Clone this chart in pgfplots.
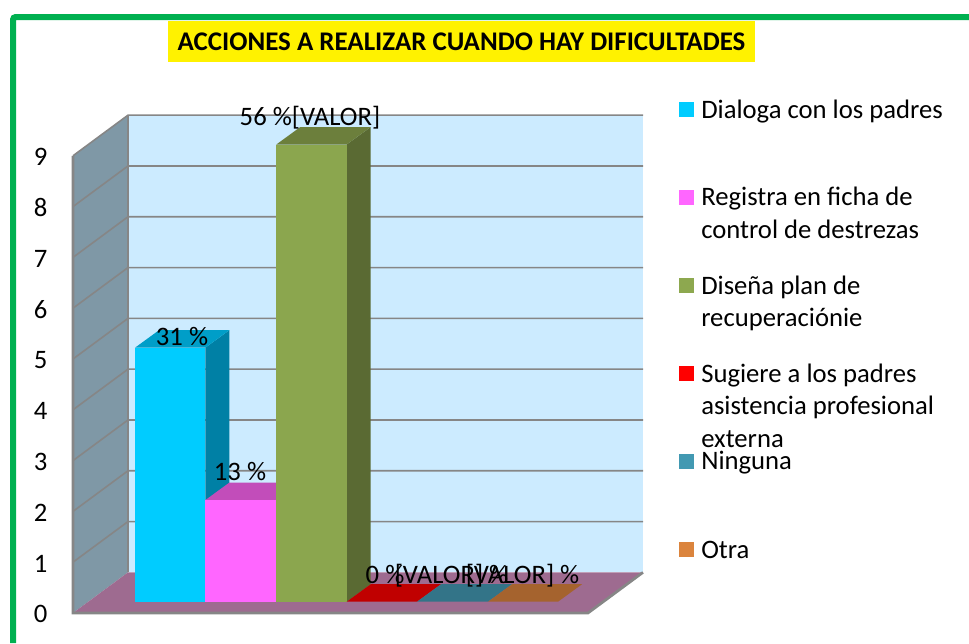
\documentclass[border=0pt]{standalone}
\usepackage{pgfplots}
\usepackage{fontspec}
\setmainfont{Carlito}
\pgfplotsset{compat=1.18}
\definecolor{grn}{HTML}{00B050}
\definecolor{wallL}{HTML}{7F98A6}
\definecolor{wallB}{HTML}{CCEBFF}
\definecolor{floorc}{HTML}{9E6B90}
\definecolor{gline}{HTML}{868686}
\newcommand{\fs}[1]{\fontsize{#1}{#1}\selectfont}
\begin{document}
\begin{tikzpicture}
\path[use as bounding box] (0,0) rectangle (726.75pt,482.25pt);
% page-level layer in pixel units
\begin{axis}[at={(0pt,0pt)},anchor=south west,x=0.75pt,y=0.75pt,xmin=0,xmax=969,ymin=0,ymax=643,y dir=reverse,hide axis,clip=false]
\addplot[draw=grn,line width=4.5pt,rounded corners=2pt] coordinates {(13,643) (13,17) (969,17)};
\addplot[fill=yellow,draw=none] coordinates {(168,21) (755,21) (755,62) (168,62)} -- cycle;
\node[anchor=base,inner sep=0pt,font=\fs{20.2}\bfseries] at (axis cs:461.5,50) {ACCIONES A REALIZAR CUANDO HAY DIFICULTADES};
\addplot[fill={rgb,255:red,0;green,204;blue,255},draw=none] coordinates {(679,102) (694,102) (694,117) (679,117)} -- cycle;
\addplot[fill={rgb,255:red,255;green,102;blue,255},draw=none] coordinates {(679,190) (694,190) (694,205) (679,205)} -- cycle;
\addplot[fill={rgb,255:red,141;green,168;blue,79},draw=none] coordinates {(679,278) (694,278) (694,293) (679,293)} -- cycle;
\addplot[fill={rgb,255:red,255;green,0;blue,0},draw=none] coordinates {(679,366) (694,366) (694,381) (679,381)} -- cycle;
\addplot[fill={rgb,255:red,66;green,153;blue,178},draw=none] coordinates {(679,454) (694,454) (694,469) (679,469)} -- cycle;
\addplot[fill={rgb,255:red,219;green,132;blue,61},draw=none] coordinates {(679,542) (694,542) (694,557) (679,557)} -- cycle;
\tikzset{lg/.style={anchor=base west,inner sep=0pt,font=\fs{20}}}
\node[lg] at (axis cs:701,118) {Dialoga con los padres};
\node[lg] at (axis cs:701,205) {Registra en ficha de};
\node[lg] at (axis cs:701,238) {control de destrezas};
\node[lg] at (axis cs:701,294) {Diseña plan de};
\node[lg] at (axis cs:701,326) {recuperaciónie};
\node[lg] at (axis cs:701,382) {Sugiere a los padres};
\node[lg] at (axis cs:701,414) {asistencia profesional};
\node[lg] at (axis cs:701,447) {externa};
\node[lg] at (axis cs:701,469) {Ninguna};
\node[lg] at (axis cs:701,558) {Otra};
\end{axis}
% walls, floor and value axis
\begin{axis}[at={(54.75pt,22.5pt)},anchor=south west,x=0.75pt,y=38.1pt,
  xmin=73,xmax=643,ymin=0,ymax=9,clip=false,
  axis line style={draw=none},xtick=\empty,ytick={0,1,2,3,4,5,6,7,8,9},
  major tick length=0pt,
  tick label style={font=\fs{20}},
  /pgf/number format/assume math mode=true,
  yticklabel style={anchor=east,inner sep=0pt,xshift=-19pt,yshift=-1pt}]
\addplot[fill=wallB,draw=none] coordinates {(128,0.8) (643,0.8) (643,9.8) (128,9.8)} -- cycle;
\addplot[fill=wallL,draw=none] coordinates {(73,0) (128,0.8) (128,9.8) (73,9)} -- cycle;
\addplot[fill=floorc,draw=none] coordinates {(73,0) (128,0.8) (643,0.8) (588,0)} -- cycle;
\addplot[draw=gline,line width=1.2pt] coordinates {(73,1) (128,1.8) (643,1.8)};
\addplot[draw=gline,line width=1.2pt] coordinates {(73,2) (128,2.8) (643,2.8)};
\addplot[draw=gline,line width=1.2pt] coordinates {(73,3) (128,3.8) (643,3.8)};
\addplot[draw=gline,line width=1.2pt] coordinates {(73,4) (128,4.8) (643,4.8)};
\addplot[draw=gline,line width=1.2pt] coordinates {(73,5) (128,5.8) (643,5.8)};
\addplot[draw=gline,line width=1.2pt] coordinates {(73,6) (128,6.8) (643,6.8)};
\addplot[draw=gline,line width=1.2pt] coordinates {(73,7) (128,7.8) (643,7.8)};
\addplot[draw=gline,line width=1.2pt] coordinates {(73,8) (128,8.8) (643,8.8)};
\addplot[draw=gline,line width=1.2pt] coordinates {(73,9) (128,9.8) (643,9.8)};
\addplot[draw=gline,line width=1pt] coordinates {(128,0.8) (128,9.8)};
\addplot[draw=gline,line width=2pt] coordinates {(73,9) (73,0) (588,0) (643,0.8)};
\end{axis}
% the bars: values 5, 2, 9, 0, 0, 0 with depth
\begin{axis}[at={(54.75pt,30.975pt)},anchor=south west,x=0.75pt,y=38.1pt,
  xmin=73,xmax=643,ymin=0,ymax=9,clip=false,hide axis]
\addplot[fill={rgb,255:red,0;green,128;blue,165},draw=none] coordinates {(205.3,0) (229.3,0.344) (229.3,5.344) (205.3,5)} -- cycle;
\addplot[fill={rgb,255:red,0;green,158;blue,200},draw=none] coordinates {(135,5) (159,5.344) (229.3,5.344) (205.3,5)} -- cycle;
\addplot[fill={rgb,255:red,0;green,204;blue,255},draw=none] coordinates {(135,0) (205.3,0) (205.3,5) (135,5)} -- cycle;
\addplot[fill={rgb,255:red,194;green,77;blue,186},draw=none] coordinates {(205.3,2) (229.3,2.344) (300.3,2.344) (276.3,2)} -- cycle;
\addplot[fill={rgb,255:red,255;green,102;blue,255},draw=none] coordinates {(205.3,0) (276.3,0) (276.3,2) (205.3,2)} -- cycle;
\addplot[fill={rgb,255:red,90;green,106;blue,51},draw=none] coordinates {(346.7,0) (370.7,0.344) (370.7,9.344) (346.7,9)} -- cycle;
\addplot[fill={rgb,255:red,108;green,127;blue,60},draw=none] coordinates {(276.3,9) (300.3,9.344) (370.7,9.344) (346.7,9)} -- cycle;
\addplot[fill={rgb,255:red,139;green,166;blue,78},draw=none] coordinates {(276.3,0) (346.7,0) (346.7,9) (276.3,9)} -- cycle;
\addplot[fill={rgb,255:red,192;green,0;blue,0},draw=none] coordinates {(346.7,0) (370.7,0.344) (441,0.344) (417,0)} -- cycle;
\addplot[fill={rgb,255:red,51;green,116;blue,136},draw=none] coordinates {(417,0) (441,0.344) (512,0.344) (488,0)} -- cycle;
\addplot[fill={rgb,255:red,165;green,99;blue,46},draw=none] coordinates {(488,0) (512,0.344) (582,0.344) (558,0)} -- cycle;
\tikzset{dl/.style={anchor=base,inner sep=0pt,font=\fs{20}}}
\node[dl] at (axis cs:182,5.05) {31 \%};
\node[dl] at (axis cs:240,2.38) {13 \%};
\node[dl] at (axis cs:310,9.37) {56 \%[VALOR]};
\node[dl] at (axis cs:385,0.36) {0 \%};
\node[dl] at (axis cs:451.5,0.36) {[VALOR] \%};
\node[dl] at (axis cs:522.5,0.36) {[VALOR] \%};
\end{axis}
\end{tikzpicture}
\end{document}
